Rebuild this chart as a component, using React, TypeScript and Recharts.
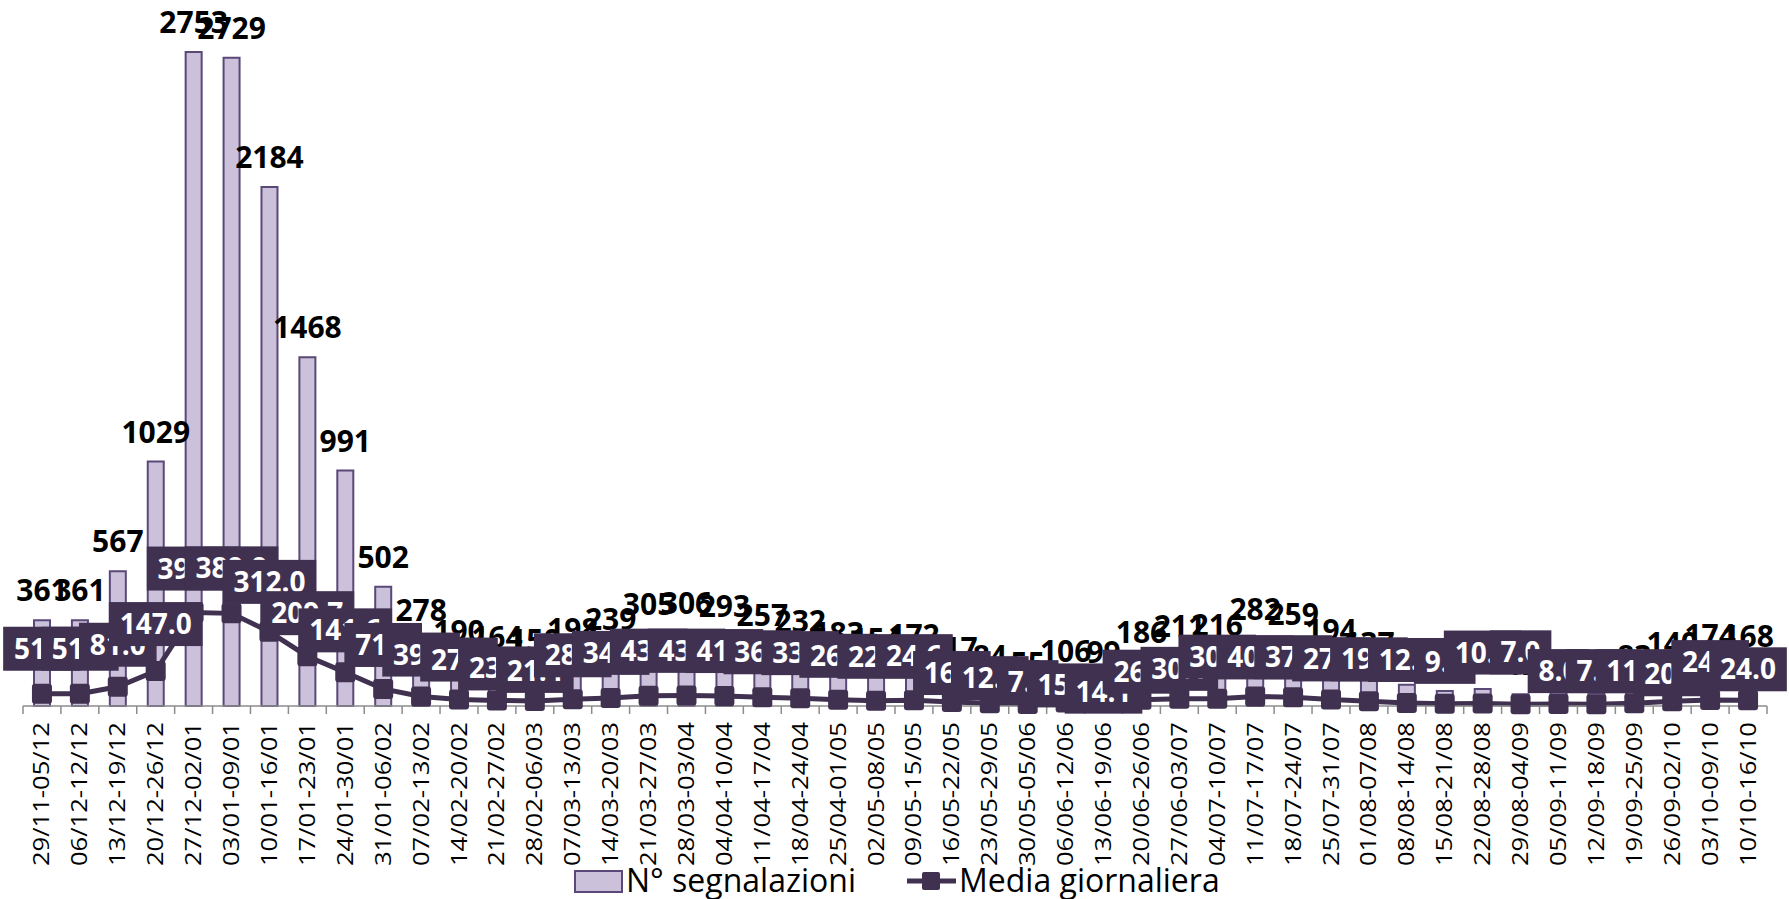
import React from "react";
import { Bar, ComposedChart, LabelList, Line, XAxis, YAxis } from "recharts";

const weeks = [
  "29/11-05/12", "06/12-12/12", "13/12-19/12", "20/12-26/12", "27/12-02/01", "03/01-09/01",
  "10/01-16/01", "17/01-23/01", "24/01-30/01", "31/01-06/02", "07/02-13/02", "14/02-20/02",
  "21/02-27/02", "28/02-06/03", "07/03-13/03", "14/03-20/03", "21/03-27/03", "28/03-03/04",
  "04/04-10/04", "11/04-17/04", "18/04-24/04", "25/04-01/05", "02/05-08/05", "09/05-15/05",
  "16/05-22/05", "23/05-29/05", "30/05-05/06", "06/06-12/06", "13/06-19/06", "20/06-26/06",
  "27/06-03/07", "04/07-10/07", "11/07-17/07", "18/07-24/07", "25/07-31/07", "01/08-07/08",
  "08/08-14/08", "15/08-21/08", "22/08-28/08", "29/08-04/09", "05/09-11/09", "12/09-18/09",
  "19/09-25/09", "26/09-02/10", "03/10-09/10", "10/10-16/10",
];

const segnalazioni = [
  361, 361, 567, 1029, 2753, 2729, 2184, 1468, 991, 502, 278, 190,
  164, 150, 198, 239, 305, 306, 293, 257, 232, 183, 154, 172,
  117, 84, 55, 106, 99, 186, 211, 216, 282, 259, 194, 137,
  89, 63, 72, 49, 56, 54, 83, 140, 174, 168,
];

const mediaGiornaliera = [
  51.6, 51.6, 81.0, 147.0, 393.3, 389.9, 312.0, 209.7, 141.6, 71.7, 39.7, 27.1,
  23.4, 21.4, 28.3, 34.1, 43.6, 43.7, 41.9, 36.7, 33.1, 26.1, 22.0, 24.6,
  16.7, 12.0, 7.9, 15.1, 14.1, 26.6, 30.1, 30.9, 40.3, 37.0, 27.7, 19.6,
  12.7, 9.0, 10.3, 7.0, 8.0, 7.7, 11.9, 20.0, 24.9, 24.0,
];

// vertical nudges (px) of the daily-average boxes, as placed in the original
const mediaLabelShift = [
  -3, -3, 0, -5, -2, -3, -8, -1, 0, -2, 0, 2,
  10, 12, -2, -3, -3, -3, -3, -3, -3, -2, -2, -2,
  13, 17, 20, 25, 31, 14, 12, 0, 3, 2, 2, 0,
  -1, 0, -9, -10, 9, 9, 10, 15, 4, 11,
];

const data = weeks.map((week, i) => ({
  week,
  segnalazioni: segnalazioni[i],
  media: mediaGiornaliera[i],
}));

const W = 1789;
const H = 899;
const LEFT = 23;
const RIGHT = 22;
const AXIS_Y = 706;
const STEP = (W - LEFT - RIGHT) / weeks.length;

const DARK = "#403151";
const LILAC = "#ccc1da";
const BAR_EDGE = "#5a4878";
const FONT = "'Open Sans', sans-serif";

// rough glyph widths for Open Sans Bold digits, used to size the label boxes
function labelWidth(s: string, size: number) {
  let w = 0;
  for (const ch of s) w += ch === "." ? 0.27 : 0.572;
  return w * size;
}

function pos(props: any) {
  const vb = props.viewBox || {};
  return {
    x: vb.x ?? props.x,
    y: vb.y ?? props.y,
    width: vb.width ?? props.width ?? 0,
  };
}

function BarValue(props: any) {
  const { x, y, width } = pos(props);
  return (
    <text
      x={x + width / 2}
      y={y - 19}
      textAnchor="middle"
      fontFamily={FONT}
      fontWeight={700}
      fontSize={30}
      fill="#000"
    >
      {props.value}
    </text>
  );
}

function MediaValue(props: any) {
  const { x, y } = pos(props);
  const label = Number(props.value).toFixed(1);
  const w = labelWidth(label, 28) + 22;
  const h = 44;
  const cy = y - 42 + (mediaLabelShift[props.index] ?? 0);
  return (
    <g>
      <rect x={x - w / 2} y={cy - h / 2} width={w} height={h} fill={DARK} />
      <text
        x={x}
        y={cy + 10}
        textAnchor="middle"
        fontFamily={FONT}
        fontWeight={700}
        fontSize={28}
        fill="#fff"
      >
        {label}
      </text>
    </g>
  );
}

function SquareDot(props: any) {
  const { cx, cy, index } = props;
  if (cx == null || cy == null) return <g key={index} />;
  return <rect key={index} x={cx - 10} y={cy - 10} width={20} height={20} rx={3} fill={DARK} />;
}

function WeekTick(props: any) {
  const { x, payload, index } = props;
  const left = x - STEP / 2;
  const tx = x + 7.5;
  const ty = AXIS_Y + 16;
  return (
    <g>
      <line x1={left} x2={left} y1={AXIS_Y} y2={AXIS_Y + 8} stroke="#8c8c8c" strokeWidth={1.5} />
      {index === weeks.length - 1 && (
        <line x1={x + STEP / 2} x2={x + STEP / 2} y1={AXIS_Y} y2={AXIS_Y + 8} stroke="#8c8c8c" strokeWidth={1.5} />
      )}
      <text
        x={0}
        y={0}
        transform={`translate(${tx}, ${ty}) rotate(-90) scale(1.22, 1)`}
        textAnchor="end"
        fontFamily={FONT}
        fontSize={21}
        fill="#000"
      >
        {payload.value}
      </text>
    </g>
  );
}

function LegendBar() {
  return (
    <svg width={W} height={H} style={{ position: "absolute", left: 0, top: 0, pointerEvents: "none" }}>
      <rect x={575} y={871} width={47} height={21} fill={LILAC} stroke={BAR_EDGE} strokeWidth={2} />
      <text x={626} y={892} fontFamily={FONT} fontSize={32} fill="#000">
        N° segnalazioni
      </text>
      <line x1={907} x2={956} y1={881} y2={881} stroke={DARK} strokeWidth={5} />
      <rect x={922} y={872} width={18} height={18} rx={2} fill={DARK} />
      <text x={959} y={892} fontFamily={FONT} fontSize={32} fill="#000">
        Media giornaliera
      </text>
    </svg>
  );
}

export default function App() {
  return (
    <div style={{ position: "absolute", left: 0, top: 0, width: W, height: H, background: "#fff", overflow: "hidden" }}>
      <ComposedChart
        width={W}
        height={H}
        data={data}
        margin={{ top: 17, right: RIGHT, left: LEFT, bottom: 0 }}
        barCategoryGap={0}
      >
        <XAxis
          dataKey="week"
          interval={0}
          height={H - AXIS_Y}
          tickLine={false}
          tickSize={0}
          tickMargin={0}
          axisLine={{ stroke: "#8c8c8c", strokeWidth: 1.5 }}
          tick={<WeekTick />}
        />
        <YAxis hide width={0} domain={[0, 2900]} />
        <Bar
          dataKey="segnalazioni"
          name="N° segnalazioni"
          barSize={16}
          fill={LILAC}
          stroke={BAR_EDGE}
          strokeWidth={2}
          isAnimationActive={false}
        >
          <LabelList dataKey="segnalazioni" content={<BarValue />} />
        </Bar>
        <Line
          type="linear"
          dataKey="media"
          name="Media giornaliera"
          stroke={DARK}
          strokeWidth={5}
          dot={<SquareDot />}
          activeDot={false}
          isAnimationActive={false}
        >
          <LabelList dataKey="media" content={<MediaValue />} />
        </Line>
      </ComposedChart>
      <LegendBar />
    </div>
  );
}
